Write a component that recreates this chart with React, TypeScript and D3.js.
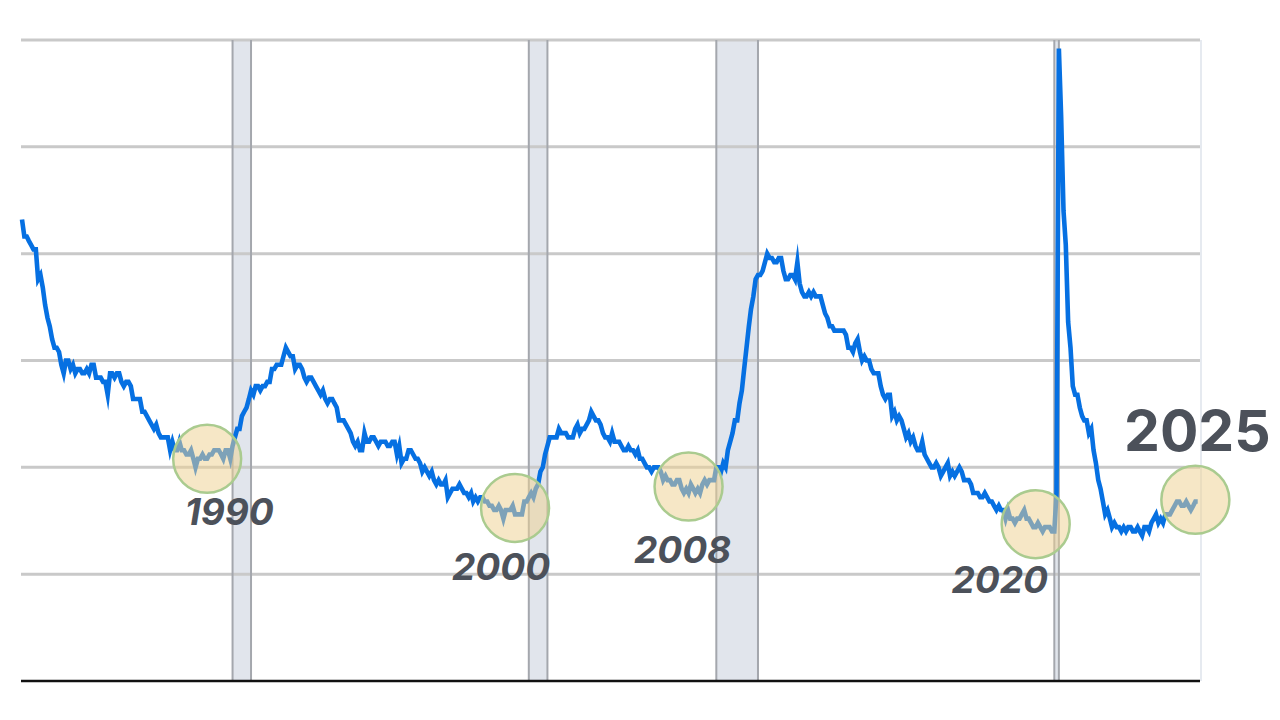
import React from "react";
import * as d3 from "d3";

// Monthly US unemployment rate (%), starting December 1982
const startYear = 1982;
const startMonth = 11; // December (0-based)
const unemploymentRate: number[] = [
  10.8,
  // 1983
  10.4, 10.4, 10.3, 10.2, 10.1, 10.1, 9.4, 9.5, 9.2, 8.8, 8.5, 8.3,
  // 1984
  8.0, 7.8, 7.8, 7.7, 7.4, 7.2, 7.5, 7.5, 7.3, 7.4, 7.2, 7.3,
  // 1985
  7.3, 7.2, 7.2, 7.3, 7.2, 7.4, 7.4, 7.1, 7.1, 7.1, 7.0, 7.0,
  // 1986
  6.7, 7.2, 7.2, 7.1, 7.2, 7.2, 7.0, 6.9, 7.0, 7.0, 6.9, 6.6,
  // 1987
  6.6, 6.6, 6.6, 6.3, 6.3, 6.2, 6.1, 6.0, 5.9, 6.0, 5.8, 5.7,
  // 1988
  5.7, 5.7, 5.7, 5.4, 5.6, 5.4, 5.4, 5.6, 5.4, 5.4, 5.3, 5.3,
  // 1989
  5.4, 5.2, 5.0, 5.2, 5.2, 5.3, 5.2, 5.2, 5.3, 5.3, 5.4, 5.4,
  // 1990
  5.4, 5.3, 5.2, 5.4, 5.4, 5.2, 5.5, 5.7, 5.9, 5.9, 6.2, 6.3,
  // 1991
  6.4, 6.6, 6.8, 6.7, 6.9, 6.9, 6.8, 6.9, 6.9, 7.0, 7.0, 7.3,
  // 1992
  7.3, 7.4, 7.4, 7.4, 7.6, 7.8, 7.7, 7.6, 7.6, 7.3, 7.4, 7.4,
  // 1993
  7.3, 7.1, 7.0, 7.1, 7.1, 7.0, 6.9, 6.8, 6.7, 6.8, 6.6, 6.5,
  // 1994
  6.6, 6.6, 6.5, 6.4, 6.1, 6.1, 6.1, 6.0, 5.9, 5.8, 5.6, 5.5,
  // 1995
  5.6, 5.4, 5.4, 5.8, 5.6, 5.6, 5.7, 5.7, 5.6, 5.5, 5.6, 5.6,
  // 1996
  5.6, 5.5, 5.5, 5.6, 5.6, 5.3, 5.5, 5.1, 5.2, 5.2, 5.4, 5.4,
  // 1997
  5.3, 5.2, 5.2, 5.1, 4.9, 5.0, 4.9, 4.8, 4.9, 4.7, 4.6, 4.7,
  // 1998
  4.6, 4.6, 4.7, 4.3, 4.4, 4.5, 4.5, 4.5, 4.6, 4.5, 4.4, 4.4,
  // 1999
  4.3, 4.4, 4.2, 4.3, 4.2, 4.3, 4.3, 4.2, 4.2, 4.1, 4.1, 4.0,
  // 2000
  4.0, 4.1, 4.0, 3.8, 4.0, 4.0, 4.0, 4.1, 3.9, 3.9, 3.9, 3.9,
  // 2001
  4.2, 4.2, 4.3, 4.4, 4.3, 4.5, 4.6, 4.9, 5.0, 5.3, 5.5, 5.7,
  // 2002
  5.7, 5.7, 5.7, 5.9, 5.8, 5.8, 5.8, 5.7, 5.7, 5.7, 5.9, 6.0,
  // 2003
  5.8, 5.9, 5.9, 6.0, 6.1, 6.3, 6.2, 6.1, 6.1, 6.0, 5.8, 5.7,
  // 2004
  5.7, 5.6, 5.8, 5.6, 5.6, 5.6, 5.5, 5.4, 5.4, 5.5, 5.4, 5.4,
  // 2005
  5.3, 5.4, 5.2, 5.2, 5.1, 5.0, 5.0, 4.9, 5.0, 5.0, 5.0, 4.9,
  // 2006
  4.7, 4.8, 4.7, 4.7, 4.6, 4.6, 4.7, 4.7, 4.5, 4.4, 4.5, 4.4,
  // 2007
  4.6, 4.5, 4.4, 4.5, 4.4, 4.6, 4.7, 4.6, 4.7, 4.7, 4.7, 5.0,
  // 2008
  5.0, 4.9, 5.1, 5.0, 5.4, 5.6, 5.8, 6.1, 6.1, 6.5, 6.8, 7.3,
  // 2009
  7.8, 8.3, 8.7, 9.0, 9.4, 9.5, 9.5, 9.6, 9.8, 10.0, 9.9, 9.9,
  // 2010
  9.8, 9.8, 9.9, 9.9, 9.6, 9.4, 9.4, 9.5, 9.5, 9.4, 9.8, 9.3,
  // 2011
  9.1, 9.0, 9.0, 9.1, 9.0, 9.1, 9.0, 9.0, 9.0, 8.8, 8.6, 8.5,
  // 2012
  8.3, 8.3, 8.2, 8.2, 8.2, 8.2, 8.2, 8.1, 7.8, 7.8, 7.7, 7.9,
  // 2013
  8.0, 7.7, 7.5, 7.6, 7.5, 7.5, 7.3, 7.2, 7.2, 7.2, 6.9, 6.7,
  // 2014
  6.6, 6.7, 6.7, 6.2, 6.3, 6.1, 6.2, 6.1, 5.9, 5.7, 5.8, 5.6,
  // 2015
  5.7, 5.5, 5.4, 5.4, 5.6, 5.3, 5.2, 5.1, 5.0, 5.0, 5.1, 5.0,
  // 2016
  4.8, 4.9, 5.0, 5.1, 4.8, 4.9, 4.8, 4.9, 5.0, 4.9, 4.7, 4.7,
  // 2017
  4.7, 4.6, 4.4, 4.4, 4.4, 4.3, 4.3, 4.4, 4.3, 4.2, 4.2, 4.1,
  // 2018
  4.0, 4.1, 4.0, 4.0, 3.8, 4.0, 3.8, 3.8, 3.7, 3.8, 3.8, 3.9,
  // 2019
  4.0, 3.8, 3.8, 3.7, 3.6, 3.6, 3.7, 3.6, 3.5, 3.6, 3.6, 3.6,
  // 2020
  3.5, 3.5, 4.4, 14.8, 13.2, 11.0, 10.2, 8.4, 7.8, 6.9, 6.7, 6.7,
  // 2021
  6.4, 6.2, 6.1, 6.1, 5.8, 5.9, 5.4, 5.1, 4.7, 4.5, 4.2, 3.9,
  // 2022
  4.0, 3.8, 3.6, 3.7, 3.6, 3.6, 3.5, 3.6, 3.5, 3.6, 3.6, 3.5,
  // 2023
  3.5, 3.6, 3.5, 3.4, 3.6, 3.6, 3.5, 3.7, 3.8, 3.9, 3.7, 3.8,
  // 2024
  3.7, 3.9, 3.9, 3.9, 4.0, 4.1, 4.2, 4.2, 4.1, 4.1, 4.2, 4.1,
  // 2025
  4.0, 4.1, 4.2, 4.2,
];

const gridValues = [2.5, 5, 7.5, 10, 12.5, 15];

// Recessions [start, end] as "YYYY-MM"
const recessionStarts = ["1990-07", "2001-03", "2007-12", "2020-02"];
const recessionEnds = ["1991-03", "2001-11", "2009-06", "2020-04"];

// Highlighted lows
const highlightLabels = ["1990", "2000", "2008", "2020", "2025"];
const highlightDates = ["1989-08", "2000-09", "2006-12", "2019-06", "2025-03"];
const highlightValues = [5.2, 4.05, 4.55, 3.67, 4.24];

const W = 1280;
const H = 720;
const left = 22;
const right = 1200;
const top = 40;
const bottom = 681;

const parse = (s: string) => {
  const [y, m] = s.split("-").map(Number);
  return new Date(y, m - 1, 1);
};

export default function App() {
  const data = unemploymentRate.map((v, i) => ({
    date: new Date(startYear, startMonth + i, 1),
    value: v,
  }));
  const x = d3
    .scaleTime()
    .domain([new Date(startYear, startMonth, 1), new Date(2025, 4, 1)])
    .range([left, right]);
  const y = d3.scaleLinear().domain([0, 15]).range([bottom, top]);

  const line = d3
    .line<{ date: Date; value: number }>()
    .x((d) => x(d.date))
    .y((d) => y(d.value))
    .curve(d3.curveLinear);

  const labelPos = [
    { dx: 22, dy: 66, size: 37, italic: true },
    { dx: -14, dy: 72, size: 37, italic: true },
    { dx: -6, dy: 76, size: 37, italic: true },
    { dx: -36, dy: 69, size: 37, italic: true },
    { dx: 2, dy: -49, size: 57, italic: false },
  ];

  return (
    <svg
      width={W}
      height={H}
      style={{ position: "absolute", left: 0, top: 0, background: "#fff" }}
    >
      {/* right border */}
      <line x1={right + 1} x2={right + 1} y1={top} y2={bottom} stroke="#e6eaf0" strokeWidth={2} />
      {/* recession bands */}
      {recessionStarts.map((s, i) => {
        const x0 = x(parse(s));
        const x1 = x(parse(recessionEnds[i]));
        return (
          <g key={s}>
            <rect x={x0} y={top} width={x1 - x0} height={bottom - top} fill="#e1e5ec" />
          </g>
        );
      })}
      {/* grid */}
      {gridValues.map((g) => (
        <line key={g} x1={left - 1} x2={right} y1={y(g)} y2={y(g)} stroke="#c9c9c9" strokeWidth={3} />
      ))}
      {recessionStarts.map((s, i) => {
        const x0 = x(parse(s));
        const x1 = x(parse(recessionEnds[i]));
        return (
          <g key={"b" + s}>
            <line x1={x0} x2={x0} y1={top} y2={bottom} stroke="#a4a7ad" strokeWidth={2} />
            <line x1={x1} x2={x1} y1={top} y2={bottom} stroke="#a4a7ad" strokeWidth={2} />
          </g>
        );
      })}
      {/* baseline */}
      <line x1={left - 1} x2={right} y1={bottom} y2={bottom} stroke="#111" strokeWidth={2.5} />
      {/* series */}
      <path d={line(data) || ""} fill="none" stroke="#0670e2" strokeWidth={4.6} strokeLinejoin="miter" strokeMiterlimit={10} />
      {/* highlight circles */}
      {highlightDates.map((d, i) => (
        <circle
          key={d}
          cx={x(parse(d))}
          cy={y(highlightValues[i])}
          r={34}
          fill="rgba(237,209,145,0.52)"
          stroke="#aacb8f"
          strokeWidth={2.5}
        />
      ))}
      {/* labels */}
      {highlightLabels.map((t, i) => {
        const p = labelPos[i];
        return (
          <text
            key={t}
            x={x(parse(highlightDates[i])) + p.dx}
            y={y(highlightValues[i]) + p.dy}
            textAnchor="middle"
            fontFamily="Inter, 'Open Sans', sans-serif"
            fontWeight={700}
            fontStyle={p.italic ? "italic" : "normal"}
            fontSize={p.size}
            fill="#4c515a"
          >
            {t}
          </text>
        );
      })}
    </svg>
  );
}
